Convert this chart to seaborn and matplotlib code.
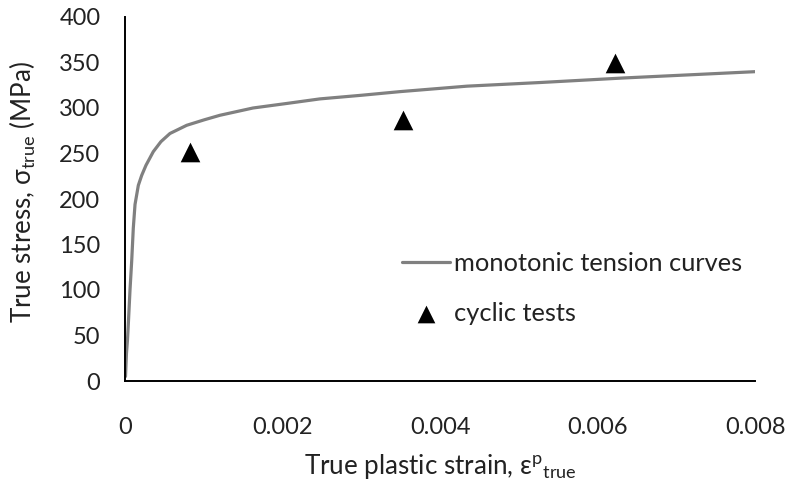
import matplotlib
matplotlib.use("Agg")
import matplotlib.pyplot as plt
import seaborn as sns
import pandas as pd

# Monotonic tension curve (true plastic strain, true stress in MPa)
mono_strain = [0.0, 0.0000120, 0.0000250, 0.0000356, 0.0000572, 0.0000788, 0.0000991,
               0.000121, 0.000163, 0.000206, 0.000260, 0.000353, 0.000450, 0.000565,
               0.000778, 0.00100, 0.00120, 0.00162, 0.00205, 0.00247, 0.00300,
               0.00349, 0.00434, 0.00527, 0.00633, 0.00730, 0.00802]
mono_stress = [5, 30, 45, 62, 100, 132, 168,
               194, 215, 226, 237, 252, 263, 272,
               281, 287, 292, 300, 305, 310, 314,
               318, 324, 328, 333, 337, 340]

# Cyclic test points
cyc_strain = [0.000817, 0.00353, 0.00622]
cyc_stress = [252, 287, 349]

x_ticks = [0, 0.002, 0.004, 0.006, 0.008]
x_tick_labels = ["0", "0.002", "0.004", "0.006", "0.008"]
y_ticks = [0, 50, 100, 150, 200, 250, 300, 350, 400]

sns.set_style("white")
plt.rcParams['font.family'] = ['Lato', 'DejaVu Sans']
plt.rcParams['mathtext.default'] = 'regular'

fig = plt.figure(figsize=(7.9, 4.84), dpi=100)
ax = fig.add_axes([125.5 / 790, 1 - 381 / 484, (755 - 125.5) / 790, (381 - 17) / 484])

mono_df = pd.DataFrame({"strain": mono_strain, "stress": mono_stress})
cyc_df = pd.DataFrame({"strain": cyc_strain, "stress": cyc_stress})

sns.lineplot(data=mono_df, x="strain", y="stress", ax=ax, color="#808080",
             linewidth=2.3, sort=False, label="monotonic tension curves", zorder=2)
sns.scatterplot(data=cyc_df, x="strain", y="stress", ax=ax, marker="^", color="black",
                s=200, edgecolor="black", linewidth=0, label="cyclic tests", zorder=3)

ax.set_xlim(0, 0.008)
ax.set_ylim(0, 400)
ax.set_xticks(x_ticks)
ax.set_xticklabels(x_tick_labels)
ax.set_yticks(y_ticks)

for s in ["top", "right"]:
    ax.spines[s].set_visible(False)
for s in ["left", "bottom"]:
    ax.spines[s].set_color("black")
    ax.spines[s].set_linewidth(1.4)

ax.tick_params(axis="both", direction="out", length=7, width=1.4, color="black",
               labelsize=17, labelcolor="#222222")
ax.tick_params(axis="x", pad=19)
ax.tick_params(axis="y", pad=11)

ax.set_xlabel("True plastic strain, ε$^{p}$$_{true}$", fontsize=18.7, color="#222222",
              labelpad=10)
ax.set_ylabel("True stress, σ$_{true}$ (MPa)", fontsize=18.7, color="#222222")
ax.yaxis.set_label_coords(-0.139, 0.52)

leg = ax.legend(loc="upper left", bbox_to_anchor=(0.4226, 0.382), frameon=False,
                fontsize=18.3, handlelength=1.9, handletextpad=0.15, labelspacing=1.06,
                borderaxespad=0, markerscale=0.9)
for t in leg.get_texts():
    t.set_color("#222222")

fig.savefig("out.png", dpi=100)
